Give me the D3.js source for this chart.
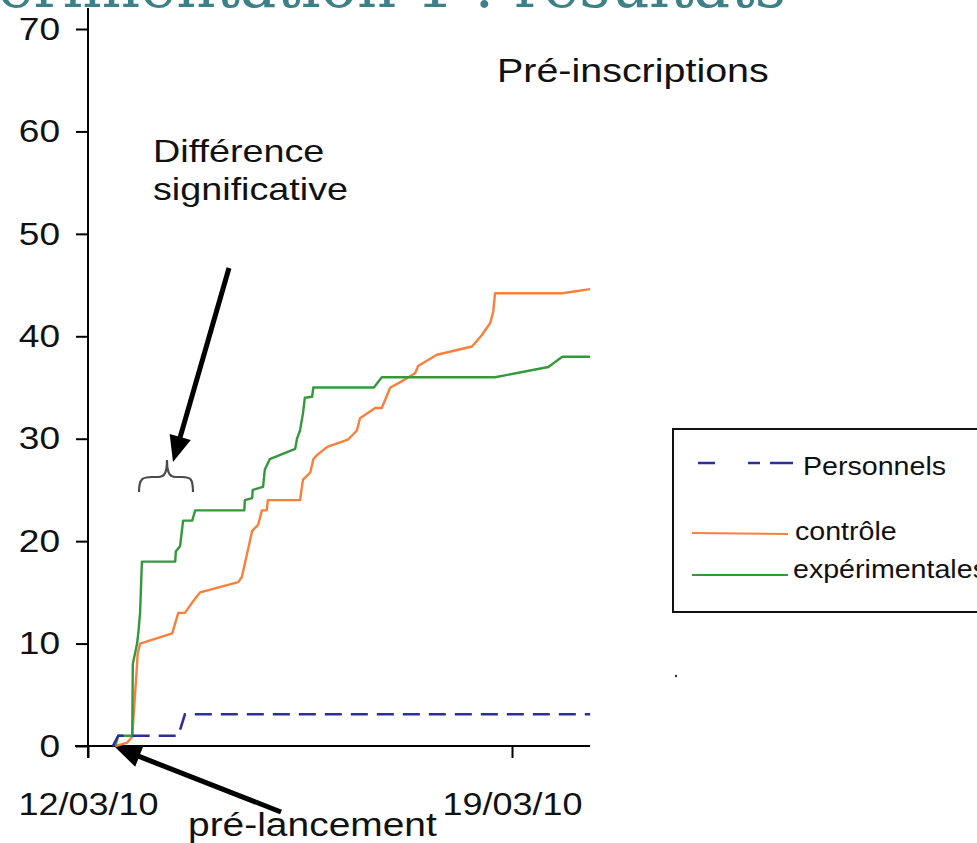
<!DOCTYPE html>
<html>
<head>
<meta charset="utf-8">
<script src="https://cdn.jsdelivr.net/npm/d3@7"></script>
<style>
  html, body { margin: 0; padding: 0; background: #ffffff; overflow: hidden; }
  svg { display: block; }
</style>
</head>
<body>
<script>
// ---------- DATA ----------
const startDate = new Date(2010, 2, 12);            // 12/03/10
const xTickDates = [new Date(2010, 2, 12), new Date(2010, 2, 19)];
const xTickLabels = ["12/03/10", "19/03/10"];
const yTicks = [0, 10, 20, 30, 40, 50, 60, 70];
const seriesNames = ["Personnels", "contrôle", "expérimentale"];

// days elapsed since 12/03/10, and cumulative pre-registrations
const staffDays   = [0.41, 0.5, 1.49, 1.6, 8.29];
const staffValues = [0, 1, 1, 3.1, 3.1];

const controlDays   = [0.45, 0.64, 0.73, 0.81, 0.82, 0.86, 1.39, 1.49, 1.6, 1.72, 1.85, 2.48, 2.54, 2.71, 2.81, 2.87, 2.95, 2.97, 3.5, 3.55, 3.67, 3.72, 3.78, 3.95, 4.29, 4.44, 4.49, 4.74, 4.85, 4.99, 5.15, 5.4, 5.45, 5.76, 6.34, 6.5, 6.64, 6.69, 6.72, 7.83, 8.29];
const controlValues = [0, 0.3, 0.9, 8, 9, 10, 11, 13, 13, 14, 15, 16, 16.5, 21, 21.6, 23, 23, 24, 24, 26, 26.7, 28, 28.4, 29.2, 29.9, 30.8, 32, 33, 33, 35, 35.5, 36.4, 37.1, 38.2, 39, 40.1, 41.3, 42.4, 44.2, 44.2, 44.6];

const expDays   = [0.45, 0.5, 0.73, 0.74, 0.81, 0.83, 0.86, 0.89, 1.44, 1.45, 1.52, 1.57, 1.72, 1.77, 2.58, 2.59, 2.71, 2.72, 2.89, 2.92, 3.0, 3.42, 3.45, 3.5, 3.55, 3.58, 3.7, 3.72, 4.72, 4.85, 6.72, 7.6, 7.83, 8.29];
const expValues = [0, 1, 1, 8, 10, 11, 13, 18, 18, 19, 19.5, 22, 22, 23, 23, 24, 24.2, 25, 25.3, 27, 28, 29, 30, 30.8, 32.5, 34, 34.1, 35, 35, 36, 36, 37, 38, 38];

const axisEndDay = 8.29;

// ---------- SETUP ----------
const W = 977, H = 843;
const STRETCH = 1.16;
const FONT = "Liberation Sans, Arial, Helvetica, sans-serif";
const dayToDate = d => new Date(startDate.getTime() + d * 86400000);

const svg = d3.select("body").append("svg").attr("width", W).attr("height", H);

const x = d3.scaleTime().domain(xTickDates).range([88, 512]);
const y = d3.scaleLinear().domain([0, 70]).range([746, 29]);

// title (cropped at top, as in the reference)
svg.append("text")
  .attr("x", 786).attr("y", 7)
  .attr("text-anchor", "end")
  .attr("font-family", "DejaVu Serif, Liberation Serif, serif")
  .attr("font-size", 61)
  .attr("fill", "#3d8188")
  .text("Expérimentation 1 : résultats");

function stretchedText(tx, ty, str, size, anchor, sx) {
  return svg.append("text")
    .attr("transform", `translate(${tx},${ty}) scale(${sx || STRETCH},1)`)
    .attr("text-anchor", anchor || "start")
    .attr("font-family", FONT)
    .attr("font-size", size)
    .attr("fill", "#111")
    .text(str);
}

// ---------- AXES ----------
const xEnd = x(dayToDate(axisEndDay));
svg.append("line").attr("x1", 75).attr("x2", xEnd).attr("y1", y(0)).attr("y2", y(0))
  .attr("stroke", "#000").attr("stroke-width", 2);
svg.append("line").attr("x1", x(startDate)).attr("x2", x(startDate)).attr("y1", 8).attr("y2", y(0) + 12)
  .attr("stroke", "#000").attr("stroke-width", 2);

const yAxis = d3.axisLeft(y).tickValues(yTicks).tickSize(12).tickSizeOuter(0).tickPadding(16);
const gy = svg.append("g").attr("transform", `translate(${x(startDate)},0)`).call(yAxis);
gy.select(".domain").remove();
gy.selectAll(".tick line").attr("stroke", "#000").attr("stroke-width", 2);
gy.selectAll(".tick text")
  .attr("font-family", FONT).attr("font-size", 32).attr("fill", "#111")
  .attr("x", -28 / STRETCH)
  .attr("transform", `scale(${STRETCH},1)`);

const xAxis = d3.axisBottom(x).tickValues(xTickDates).tickSize(12).tickSizeOuter(0)
  .tickFormat((d, i) => xTickLabels[i]);
const gx = svg.append("g").attr("transform", `translate(0,${y(0)})`).call(xAxis);
gx.select(".domain").remove();
gx.selectAll(".tick line").attr("stroke", "#000").attr("stroke-width", 2);
gx.selectAll(".tick text")
  .attr("font-family", FONT).attr("font-size", 31).attr("fill", "#111")
  .attr("y", 0).attr("dy", 0)
  .attr("transform", `translate(0,69) scale(${STRETCH},1)`);

// ---------- LINES ----------
const line = d3.line().x(d => x(d[0])).y(d => y(d[1]));
const zip = (ds, vs) => ds.map((d, i) => [dayToDate(d), vs[i]]);

svg.append("path").datum(zip(controlDays, controlValues))
  .attr("d", line).attr("fill", "none").attr("stroke", "#fb7f3a").attr("stroke-width", 2.4)
  .attr("stroke-linejoin", "round");
svg.append("path").datum(zip(expDays, expValues))
  .attr("d", line).attr("fill", "none").attr("stroke", "#33993a").attr("stroke-width", 2.4)
  .attr("stroke-linejoin", "round");
svg.append("path").datum(zip(staffDays, staffValues))
  .attr("d", line).attr("fill", "none").attr("stroke", "#2e2e9a").attr("stroke-width", 2.6)
  .attr("stroke-dasharray", "17,9");

// ---------- ANNOTATIONS ----------
stretchedText(497, 82, "Pré-inscriptions", 34);
stretchedText(153, 162, "Différence", 32, "start", 1.18);
stretchedText(153, 200, "significative", 32, "start", 1.18);
stretchedText(188, 836, "pré-lancement", 33, "start", 1.18);

function arrow(x1, y1, x2, y2, headLen, headW) {
  const dx = x2 - x1, dy = y2 - y1, L = Math.hypot(dx, dy);
  const ux = dx / L, uy = dy / L;
  const bx = x2 - ux * headLen, by = y2 - uy * headLen;
  svg.append("line").attr("x1", x1).attr("y1", y1).attr("x2", bx + ux * 3).attr("y2", by + uy * 3)
    .attr("stroke", "#000").attr("stroke-width", 5);
  const px = -uy, py = ux;
  svg.append("path")
    .attr("d", `M${x2},${y2}L${bx + px * headW / 2},${by + py * headW / 2}L${bx - px * headW / 2},${by - py * headW / 2}Z`)
    .attr("fill", "#000");
}
arrow(229, 268, 173, 462, 26, 22);
arrow(281, 812, 115, 747, 26, 22);

// brace
svg.append("path")
  .attr("d", "M139,492 C139,478 143,477 152,477 L158,477 C165,477 167,472 167,460 C167,472 169,477 176,477 L182,477 C190,477 193,478 193,492")
  .attr("fill", "none").attr("stroke", "#4a4a4a").attr("stroke-width", 2.2);

// small dot artifact
svg.append("circle").attr("cx", 676).attr("cy", 676).attr("r", 1.2).attr("fill", "#333");

// ---------- LEGEND ----------
svg.append("rect").attr("x", 673).attr("y", 429).attr("width", 330).attr("height", 183)
  .attr("fill", "#fff").attr("stroke", "#111").attr("stroke-width", 2);

svg.append("line").attr("x1", 698).attr("x2", 793).attr("y1", 463).attr("y2", 463)
  .attr("stroke", "#2e2e9a").attr("stroke-width", 2.6).attr("stroke-dasharray", "17,33,12,10,23");
svg.append("line").attr("x1", 692).attr("x2", 788).attr("y1", 533).attr("y2", 534)
  .attr("stroke", "#fb7f3a").attr("stroke-width", 2.2);
svg.append("line").attr("x1", 692).attr("x2", 788).attr("y1", 575).attr("y2", 575)
  .attr("stroke", "#33993a").attr("stroke-width", 2.2);

stretchedText(803, 475, seriesNames[0], 26, "start", 1.1);
stretchedText(795, 540, seriesNames[1], 26, "start", 1.1);
stretchedText(793, 578, seriesNames[2] + "s", 26, "start", 1.1);
</script>
</body>
</html>
